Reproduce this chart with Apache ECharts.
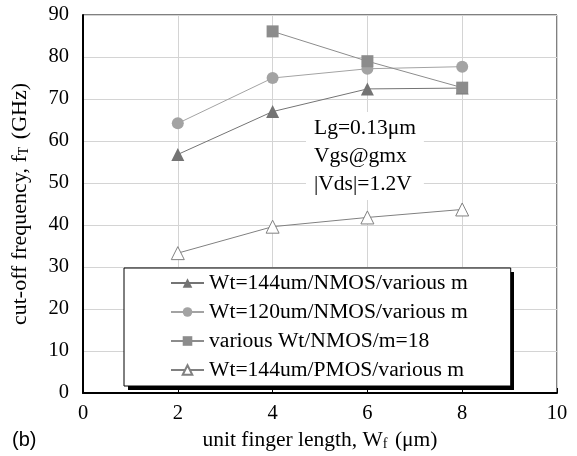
<!DOCTYPE html>
<html lang="en">
	<head>
		<meta charset="UTF-8" />
		<title>cut-off frequency</title>
		<style>
			body {
				margin: 0;
				padding: 0;
				background: #fff;
			}
			.chart {
				width: 577px;
				height: 456px;
			}
		</style>
	</head>
	<body>
		<div class="chart"></div>
		<script src="https://cdn.jsdelivr.net/npm/echarts@6/dist/echarts.min.js"></script>
		<script>
			// 数据
			const fingerLength = [2, 4, 6, 8];
			const nmos144 = [56.8, 67.0, 72.4, 72.6];
			const nmos120 = [64.2, 75.0, 77.2, 77.7];
			const variousWt = [null, 86.1, 79.0, 72.7];
			const pmos144 = [33.3, 39.6, 41.8, 43.7];
			const seriesNames = [
				'Wt=144um/NMOS/various m',
				'Wt=120um/NMOS/various m',
				'various Wt/NMOS/m=18',
				'Wt=144um/PMOS/various m'
			];

			const serif = 'Liberation Serif';
			const pairs = arr => fingerLength.map((x, i) => [x, arr[i]]).filter(p => p[1] != null);

			const container = document.querySelector('.chart');
			const instance = echarts.init(container);
			const option = {
				animation: false,
				grid: {
					left: 83,
					right: 20,
					top: 15,
					bottom: 60,
					show: true,
					borderColor: '#000',
					borderWidth: 1
				},
				legend: {
					left: 124,
					top: 268,
					z: 6,
					orient: 'vertical',
					itemWidth: 33,
					itemHeight: 12,
					itemGap: 7,
					padding: [4, 43, 5, 46],
					backgroundColor: '#fff',
					borderColor: '#000',
					borderWidth: 1,
					borderRadius: 0,
					textStyle: { fontFamily: serif, fontSize: 21.6, color: '#000' },
					data: seriesNames
				},
				xAxis: {
					type: 'value',
					min: 0,
					max: 10,
					interval: 2,
					name: 'unit finger length, W{sub|f} (\u03bcm)',
					nameLocation: 'middle',
					nameGap: 36,
					nameTextStyle: {
						fontFamily: serif,
						fontSize: 21.5,
						color: '#000',
						rich: { sub: { fontFamily: serif, fontSize: 14, verticalAlign: 'bottom', padding: [8, 2, 0, 0] } }
					},
					axisLine: { lineStyle: { color: '#000', width: 2 } },
					axisTick: { inside: true, length: 5, lineStyle: { color: '#000' } },
					axisLabel: { fontFamily: serif, fontSize: 20.5, color: '#000', margin: 10 },
					splitLine: { lineStyle: { color: '#d4d4d4' } }
				},
				yAxis: {
					type: 'value',
					min: 0,
					max: 90,
					interval: 10,
					name: 'cut-off frequency, f{sub|T} (GHz)',
					nameLocation: 'middle',
					nameGap: 52,
					nameTextStyle: {
						fontFamily: serif,
						fontSize: 22,
						color: '#000',
						rich: { sub: { fontFamily: serif, fontSize: 14, verticalAlign: 'bottom', padding: [8, 2, 0, 0] } }
					},
					axisLine: { show: true, lineStyle: { color: '#000', width: 2 } },
					axisTick: { show: false },
					axisLabel: { fontFamily: serif, fontSize: 20.5, color: '#000', margin: 14 },
					splitLine: { lineStyle: { color: '#d4d4d4' } }
				},
				graphic: [
					{
						// legend drop shadow
						type: 'rect',
						z: 5,
						shape: { x: 128, y: 272, width: 386, height: 118 },
						style: { fill: '#000' }
					},
					{
						type: 'text',
						left: 306,
						top: 112,
						z: 5,
						style: {
							text: 'Lg=0.13\u03bcm\nVgs@gmx\n|Vds|=1.2V',
							font: '21.5px "Liberation Serif"',
							lineHeight: 28,
							fill: '#000',
							backgroundColor: '#fff',
							padding: [2, 8, 2, 8]
						}
					},
					{
						type: 'text',
						left: 12,
						top: 430,
						style: {
							text: '(b)',
							font: '20px "Liberation Sans"',
							fill: '#000'
						}
					}
				],
				series: [
					{
						name: seriesNames[0],
						type: 'line',
						data: pairs(nmos144),
						symbol: 'triangle',
						symbolSize: 13,
						itemStyle: { color: '#747474' },
						lineStyle: { color: '#747474', width: 1 }
					},
					{
						name: seriesNames[1],
						type: 'line',
						data: pairs(nmos120),
						symbol: 'circle',
						symbolSize: 12,
						itemStyle: { color: '#a3a3a3' },
						lineStyle: { color: '#a3a3a3', width: 1 }
					},
					{
						name: seriesNames[2],
						type: 'line',
						data: pairs(variousWt),
						symbol: 'rect',
						symbolSize: 12,
						itemStyle: { color: '#8c8c8c' },
						lineStyle: { color: '#8c8c8c', width: 1 }
					},
					{
						name: seriesNames[3],
						type: 'line',
						data: pairs(pmos144),
						symbol: 'triangle',
						symbolSize: 13,
						itemStyle: { color: '#fff', borderColor: '#808080', borderWidth: 1 },
						lineStyle: { color: '#808080', width: 1 }
					}
				]
			};
			instance.setOption(option);
		</script>
	</body>
</html>
